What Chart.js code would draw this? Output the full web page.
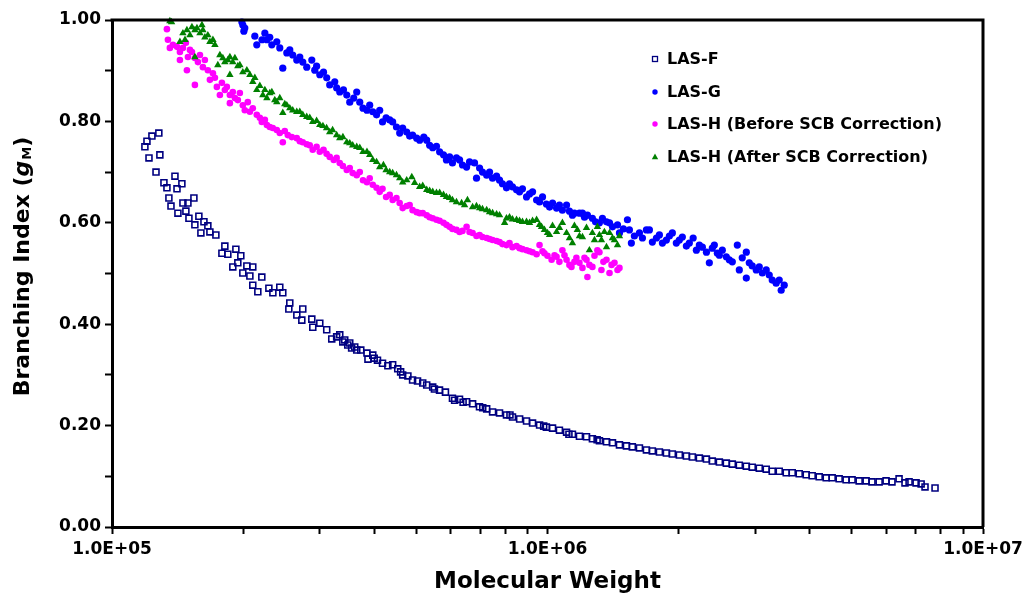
<!DOCTYPE html>
<html>
<head>
<meta charset="utf-8">
<title>Branching Index vs Molecular Weight</title>
<script src="https://cdn.jsdelivr.net/npm/chart.js"></script>
<style>
  html, body { margin: 0; padding: 0; background: #fff; }
  #wrap { width: 1024px; height: 597px; }
</style>
</head>
<body>
<div id="wrap"><canvas id="gmChart"></canvas></div>
<script>
// [molecular weight, g_M]

const lasF = [
  [1.281e5,0.777],[1.235e5,0.771],[1.203e5,0.761],[1.190e5,0.750],[1.216e5,0.728],[1.288e5,0.734],[1.262e5,0.700],
  [1.395e5,0.692],[1.316e5,0.679],[1.337e5,0.669],[1.447e5,0.677],[1.410e5,0.667],[1.351e5,0.649],[1.542e5,0.649],
  [1.455e5,0.639],[1.494e5,0.639],[1.366e5,0.633],[1.478e5,0.623],[1.417e5,0.619],[1.583e5,0.613],[1.502e5,0.609],
  [1.626e5,0.602],[1.550e5,0.596],[1.660e5,0.594],[1.600e5,0.580],[1.732e5,0.576],[1.678e5,0.582],[1.816e5,0.554],
  [1.925e5,0.548],[1.788e5,0.540],[1.845e5,0.538],[1.976e5,0.535],[1.945e5,0.521],[2.040e5,0.515],[2.105e5,0.513],
  [1.894e5,0.513],[1.997e5,0.501],[2.073e5,0.495],[2.208e5,0.493],[2.105e5,0.477],[2.162e5,0.464],[2.292e5,0.471],
  [2.428e5,0.473],[2.341e5,0.462],[2.467e5,0.462],[2.560e5,0.442],[2.547e5,0.430],[2.742e5,0.430],[2.657e5,0.418],
  [2.728e5,0.408],[2.876e5,0.410],[3.000e5,0.402],[2.891e5,0.394],[3.112e5,0.389],[3.196e5,0.371],[3.334e5,0.379],
  [3.388e5,0.365],[3.647e5,0.349],[3.478e5,0.359],[3.550e5,0.353],
  [3.280e5,0.375],[3.423e5,0.369],[3.515e5,0.363],[3.609e5,0.355],[3.726e5,0.349],[3.850e5,0.343],[3.870e5,0.331],
  [3.970e5,0.339],[4.000e5,0.333],[4.070e5,0.329],[4.180e5,0.323],[4.300e5,0.318],[4.410e5,0.320],[4.530e5,0.312],
  [4.600e5,0.306],[4.650e5,0.300],[4.780e5,0.298],[4.900e5,0.290],[5.030e5,0.288],[5.170e5,0.284],[5.280e5,0.280],
  [5.450e5,0.276],[5.500e5,0.272],[5.650e5,0.270],[5.830e5,0.266],[6.050e5,0.254],[6.120e5,0.250],[6.280e5,0.252],
  [6.400e5,0.246],[6.520e5,0.247],[6.730e5,0.243],[6.980e5,0.237],[7.100e5,0.235],[7.250e5,0.233],[7.480e5,0.227],
  [7.760e5,0.225],[8.050e5,0.221],[8.200e5,0.221],[8.310e5,0.217],[8.630e5,0.213],[8.950e5,0.209],[9.240e5,0.205],
  [9.590e5,0.201],[9.800e5,0.199],[9.940e5,0.197],[1.027e6,0.195],[1.065e6,0.191],[1.106e6,0.187],[1.120e6,0.183],
  [1.141e6,0.183],[1.184e6,0.179],[1.229e6,0.178],[1.268e6,0.174],[1.300e6,0.172],[1.316e6,0.170],[1.366e6,0.168],
  [1.410e6,0.166],[1.463e6,0.162],[1.518e6,0.160],[1.566e6,0.158],[1.626e6,0.156],[1.687e6,0.152],[1.741e6,0.150],
  [1.807e6,0.148],[1.875e6,0.146],[1.935e6,0.144],[2.008e6,0.142],[2.084e6,0.140],[2.151e6,0.138],[2.232e6,0.136],
  [2.317e6,0.134],[2.390e6,0.130],[2.481e6,0.128],[2.574e6,0.126],[2.657e6,0.124],[2.757e6,0.122],[2.861e6,0.120],
  [2.952e6,0.118],[3.064e6,0.116],[3.179e6,0.114],[3.281e6,0.110],[3.405e6,0.110],[3.533e6,0.107],[3.647e6,0.107],
  [3.784e6,0.105],[3.927e6,0.103],[4.053e6,0.101],[4.206e6,0.099],[4.365e6,0.097],[4.505e6,0.097],[4.674e6,0.095],
  [4.849e6,0.093],[5.005e6,0.093],[5.195e6,0.091],[5.390e6,0.091],[5.560e6,0.089],[5.774e6,0.089],[5.990e6,0.091],
  [6.180e6,0.089],[6.416e6,0.095],[6.620e6,0.087],[6.765e6,0.089],[7.020e6,0.087],[7.210e6,0.085],[7.360e6,0.079],
  [7.760e6,0.077]
];

const lasG = [
  [1.987e5,0.996],[1.997e5,0.990],[2.018e5,0.984],[2.008e5,0.978],[2.128e5,0.968],[2.150e5,0.951],[2.210e5,0.961],
  [2.244e5,0.974],[2.268e5,0.961],[2.303e5,0.966],[2.328e5,0.951],[2.390e5,0.957],[2.428e5,0.945],[2.467e5,0.905],
  [2.520e5,0.935],[2.560e5,0.941],[2.600e5,0.931],[2.656e5,0.921],[2.699e5,0.927],[2.742e5,0.917],[2.800e5,0.907],
  [2.876e5,0.921],[2.921e5,0.901],[2.950e5,0.909],[3.000e5,0.892],[3.060e5,0.897],[3.112e5,0.886],[3.162e5,0.872],
  [3.247e5,0.878],[3.280e5,0.866],[3.334e5,0.858],[3.400e5,0.862],[3.460e5,0.852],[3.515e5,0.838],[3.590e5,0.846],
  [3.647e5,0.858],[3.706e5,0.838],[3.770e5,0.826],[3.850e5,0.822],[3.906e5,0.832],[3.970e5,0.819],[4.050e5,0.813],
  [4.118e5,0.822],[4.180e5,0.799],[4.260e5,0.807],[4.342e5,0.803],[4.410e5,0.799],[4.500e5,0.789],[4.577e5,0.777],
  [4.650e5,0.787],[4.750e5,0.779],[4.825e5,0.771],[4.900e5,0.773],[5.007e5,0.767],[5.087e5,0.763],[5.200e5,0.769],
  [5.280e5,0.763],[5.362e5,0.753],[5.450e5,0.748],[5.560e5,0.751],[5.653e5,0.740],[5.770e5,0.734],[5.860e5,0.724],
  [5.959e5,0.730],[6.050e5,0.718],[6.180e5,0.728],[6.282e5,0.724],[6.380e5,0.714],[6.520e5,0.710],[6.622e5,0.720],
  [6.800e5,0.718],[6.870e5,0.688],[6.983e5,0.708],[7.090e5,0.700],[7.250e5,0.694],[7.362e5,0.700],[7.480e5,0.688],
  [7.640e5,0.692],[7.760e5,0.684],[7.880e5,0.677],[8.050e5,0.669],[8.180e5,0.677],[8.310e5,0.671],[8.490e5,0.665],
  [8.626e5,0.661],[8.760e5,0.667],[8.950e5,0.651],[9.094e5,0.657],[9.240e5,0.661],[9.440e5,0.645],[9.588e5,0.641],
  [9.740e5,0.651],[9.940e5,0.637],[1.011e6,0.631],[1.027e6,0.639],[1.049e6,0.629],[1.065e6,0.635],[1.082e6,0.625],
  [1.106e6,0.635],[1.123e6,0.623],[1.141e6,0.615],[1.153e6,0.619],[1.184e6,0.619],[1.203e6,0.619],[1.216e6,0.611],
  [1.235e6,0.615],[1.268e6,0.609],[1.289e6,0.602],[1.316e6,0.600],[1.337e6,0.609],[1.366e6,0.602],[1.388e6,0.600],
  [1.410e6,0.592],[1.448e6,0.596],[1.463e6,0.580],[1.494e6,0.588],[1.526e6,0.606],[1.542e6,0.586],[1.558e6,0.560],
  [1.583e6,0.574],[1.626e6,0.580],[1.652e6,0.570],[1.687e6,0.586],[1.714e6,0.586],[1.741e6,0.562],[1.779e6,0.570],
  [1.807e6,0.576],[1.836e6,0.560],[1.875e6,0.566],[1.905e6,0.574],[1.935e6,0.580],[1.976e6,0.560],[2.008e6,0.566],
  [2.040e6,0.572],[2.084e6,0.554],[2.117e6,0.560],[2.160e6,0.570],[2.197e6,0.546],[2.232e6,0.556],[2.268e6,0.552],
  [2.317e6,0.542],[2.353e6,0.521],[2.390e6,0.550],[2.416e6,0.556],[2.455e6,0.540],[2.481e6,0.536],[2.520e6,0.546],
  [2.574e6,0.533],[2.615e6,0.527],[2.657e6,0.523],[2.728e6,0.556],[2.757e6,0.507],[2.800e6,0.531],[2.861e6,0.542],
  [2.861e6,0.491],[2.906e6,0.521],[2.952e6,0.515],[3.015e6,0.507],[3.064e6,0.513],[3.114e6,0.501],[3.179e6,0.507],
  [3.230e6,0.497],[3.281e6,0.487],[3.350e6,0.481],[3.405e6,0.487],[3.440e6,0.467],[3.496e6,0.477]
];

const lasHBefore = [
  [1.337e5,0.982],[1.344e5,0.961],[1.358e5,0.945],[1.380e5,0.951],[1.410e5,0.947],[1.432e5,0.921],[1.432e5,0.937],
  [1.455e5,0.945],[1.478e5,0.955],[1.486e5,0.901],[1.494e5,0.927],[1.510e5,0.941],[1.526e5,0.937],[1.550e5,0.872],
  [1.550e5,0.925],[1.575e5,0.917],[1.592e5,0.931],[1.617e5,0.907],[1.634e5,0.921],[1.660e5,0.901],[1.678e5,0.882],
  [1.705e5,0.895],[1.723e5,0.886],[1.741e5,0.868],[1.769e5,0.852],[1.788e5,0.876],[1.816e5,0.862],[1.835e5,0.868],
  [1.865e5,0.852],[1.865e5,0.836],[1.894e5,0.858],[1.915e5,0.846],[1.945e5,0.842],[1.966e5,0.856],[1.997e5,0.832],
  [2.018e5,0.822],[2.050e5,0.838],[2.073e5,0.819],[2.105e5,0.826],[2.150e5,0.813],[2.185e5,0.807],[2.208e5,0.799],
  [2.244e5,0.803],[2.268e5,0.793],[2.303e5,0.789],[2.340e5,0.787],[2.390e5,0.783],[2.428e5,0.777],[2.467e5,0.759],
  [2.493e5,0.781],[2.533e5,0.773],[2.587e5,0.769],[2.656e5,0.767],[2.699e5,0.761],[2.742e5,0.759],[2.800e5,0.755],
  [2.845e5,0.753],[2.890e5,0.744],[2.950e5,0.750],[3.000e5,0.740],[3.060e5,0.744],[3.110e5,0.736],[3.162e5,0.730],
  [3.230e5,0.724],[3.280e5,0.728],[3.334e5,0.718],[3.390e5,0.712],[3.460e5,0.704],[3.515e5,0.708],[3.570e5,0.698],
  [3.647e5,0.694],[3.706e5,0.700],[3.770e5,0.684],[3.850e5,0.680],[3.906e5,0.688],[3.970e5,0.675],[4.050e5,0.669],
  [4.118e5,0.661],[4.180e5,0.667],[4.260e5,0.651],[4.342e5,0.655],[4.410e5,0.645],[4.500e5,0.649],[4.577e5,0.639],
  [4.650e5,0.629],[4.750e5,0.633],[4.825e5,0.635],[4.900e5,0.625],[5.007e5,0.621],[5.087e5,0.619],[5.170e5,0.619],
  [5.280e5,0.615],[5.362e5,0.611],[5.450e5,0.609],[5.560e5,0.606],[5.653e5,0.604],[5.770e5,0.600],[5.860e5,0.596],
  [5.959e5,0.592],[6.050e5,0.588],[6.180e5,0.586],[6.282e5,0.582],[6.380e5,0.584],[6.520e5,0.592],[6.622e5,0.582],
  [6.730e5,0.580],[6.870e5,0.574],[6.983e5,0.576],[7.090e5,0.572],[7.250e5,0.570],[7.362e5,0.568],[7.480e5,0.566],
  [7.640e5,0.564],[7.760e5,0.562],[7.880e5,0.558],[8.050e5,0.556],[8.180e5,0.560],[8.310e5,0.552],[8.490e5,0.554],
  [8.626e5,0.550],[8.760e5,0.548],[8.950e5,0.546],[9.094e5,0.544],[9.240e5,0.542],[9.440e5,0.538],[9.588e5,0.556],
  [9.740e5,0.544],[9.840e5,0.540],[1.000e6,0.535],[1.022e6,0.527],[1.038e6,0.536],[1.049e6,0.533],[1.065e6,0.523],
  [1.082e6,0.546],[1.094e6,0.536],[1.106e6,0.527],[1.123e6,0.517],[1.135e6,0.513],[1.153e6,0.523],[1.165e6,0.531],
  [1.184e6,0.521],[1.203e6,0.511],[1.216e6,0.531],[1.229e6,0.527],[1.235e6,0.493],[1.248e6,0.517],[1.268e6,0.513],
  [1.282e6,0.535],[1.302e6,0.546],[1.316e6,0.542],[1.330e6,0.507],[1.344e6,0.523],[1.366e6,0.527],[1.388e6,0.501],
  [1.403e6,0.517],[1.425e6,0.521],[1.448e6,0.507],[1.463e6,0.511]
];

const lasHAfter = [
  [1.358e5,0.998],[1.370e5,0.996],[1.432e5,0.957],[1.455e5,0.974],[1.471e5,0.961],[1.486e5,0.980],[1.510e5,0.970],
  [1.526e5,0.986],[1.550e5,0.980],[1.567e5,0.984],[1.592e5,0.974],[1.609e5,0.990],[1.617e5,0.980],[1.634e5,0.966],
  [1.660e5,0.970],[1.678e5,0.957],[1.705e5,0.961],[1.723e5,0.951],[1.550e5,0.927],[1.750e5,0.911],[1.769e5,0.931],
  [1.797e5,0.925],[1.816e5,0.917],[1.845e5,0.921],[1.865e5,0.927],[1.865e5,0.892],[1.894e5,0.917],[1.915e5,0.925],
  [1.945e5,0.909],[1.966e5,0.911],[1.997e5,0.897],[2.040e5,0.901],[2.073e5,0.892],[2.105e5,0.878],[2.128e5,0.886],
  [2.150e5,0.862],[2.185e5,0.870],[2.220e5,0.852],[2.244e5,0.862],[2.268e5,0.846],[2.303e5,0.856],[2.328e5,0.858],
  [2.365e5,0.842],[2.390e5,0.838],[2.428e5,0.846],[2.467e5,0.817],[2.493e5,0.834],[2.520e5,0.832],[2.560e5,0.826],
  [2.600e5,0.822],[2.656e5,0.819],[2.699e5,0.819],[2.742e5,0.813],[2.800e5,0.809],[2.845e5,0.807],[2.890e5,0.799],
  [2.950e5,0.801],[3.000e5,0.793],[3.050e5,0.791],[3.110e5,0.787],[3.162e5,0.779],[3.210e5,0.783],[3.280e5,0.773],
  [3.334e5,0.767],[3.390e5,0.769],[3.460e5,0.759],[3.515e5,0.757],[3.570e5,0.753],[3.647e5,0.750],[3.706e5,0.748],
  [3.770e5,0.740],[3.850e5,0.740],[3.906e5,0.734],[3.970e5,0.724],[4.050e5,0.720],[4.118e5,0.710],[4.200e5,0.714],
  [4.260e5,0.704],[4.342e5,0.700],[4.410e5,0.698],[4.500e5,0.694],[4.577e5,0.688],[4.650e5,0.680],[4.750e5,0.684],
  [4.880e5,0.690],[4.954e5,0.679],[5.087e5,0.671],[5.170e5,0.673],[5.280e5,0.665],[5.362e5,0.663],[5.450e5,0.661],
  [5.560e5,0.659],[5.653e5,0.659],[5.770e5,0.655],[5.860e5,0.651],[5.959e5,0.649],[6.050e5,0.645],[6.180e5,0.641],
  [6.350e5,0.639],[6.450e5,0.635],[6.550e5,0.645],[6.730e5,0.631],[6.870e5,0.633],[6.983e5,0.629],[7.090e5,0.627],
  [7.250e5,0.625],[7.362e5,0.621],[7.480e5,0.619],[7.640e5,0.617],[7.760e5,0.615],[7.970e5,0.600],[8.050e5,0.609],
  [8.180e5,0.611],[8.310e5,0.607],[8.490e5,0.606],[8.626e5,0.604],[8.760e5,0.602],[8.950e5,0.602],[9.094e5,0.600],
  [9.240e5,0.604],[9.440e5,0.606],[9.588e5,0.596],[9.690e5,0.592],[9.840e5,0.586],[1.000e6,0.580],[1.011e6,0.576],
  [1.027e6,0.594],[1.049e6,0.582],[1.065e6,0.590],[1.082e6,0.600],[1.106e6,0.580],[1.123e6,0.570],[1.141e6,0.560],
  [1.153e6,0.594],[1.171e6,0.586],[1.184e6,0.574],[1.203e6,0.572],[1.229e6,0.590],[1.248e6,0.546],[1.268e6,0.580],
  [1.282e6,0.566],[1.302e6,0.592],[1.316e6,0.576],[1.330e6,0.566],[1.351e6,0.582],[1.366e6,0.552],[1.388e6,0.580],
  [1.410e6,0.570],[1.425e6,0.566],[1.448e6,0.556],[1.463e6,0.574]
];

const seriesNames = ['LAS-F', 'LAS-G', 'LAS-H (Before SCB Correction)', 'LAS-H (After SCB Correction)'];

const xTickValues = [1e5, 2e5, 3e5, 4e5, 5e5, 6e5, 7e5, 8e5, 9e5,
                     1e6, 2e6, 3e6, 4e6, 5e6, 6e6, 7e6, 8e6, 9e6, 1e7];
const xTickLabels = ['1.0E+05', '', '', '', '', '', '', '', '',
                     '1.0E+06', '', '', '', '', '', '', '', '', '1.0E+07'];
const yTickValues = [0, 0.1, 0.2, 0.3, 0.4, 0.5, 0.6, 0.7, 0.8, 0.9, 1.0];
const yTickLabels = ['0.00', '', '0.20', '', '0.40', '', '0.60', '', '0.80', '', '1.00'];

const FONT = "'DejaVu Sans', 'Liberation Sans', Arial, sans-serif";
const toPoints = (arr) => arr.map(p => ({ x: p[0], y: p[1] }));

// legend entries drawn inside the plot, top right
function drawLegendMarker(ctx, kind, color, x, y) {
    ctx.save();
    ctx.fillStyle = color;
    ctx.strokeStyle = color;
    ctx.beginPath();
    if (kind === 'rect') {
        ctx.lineWidth = 1.3;
        ctx.strokeRect(x - 2.5, y - 2.5, 5, 5);
    } else if (kind === 'triangle') {
        ctx.moveTo(x, y - 3.5);
        ctx.lineTo(x + 3.2, y + 2.3);
        ctx.lineTo(x - 3.2, y + 2.3);
        ctx.closePath();
        ctx.fill();
    } else {
        ctx.arc(x, y, 2.7, 0, Math.PI * 2);
        ctx.fill();
    }
    ctx.restore();
}

const extrasPlugin = {
    id: 'extras',
    afterDraw(chart) {
        const { ctx, chartArea: a } = chart;
        ctx.save();

        // closing top and right sides of the frame
        ctx.strokeStyle = '#000';
        ctx.lineWidth = 3;
        ctx.beginPath();
        ctx.moveTo(a.left - 1.5, a.top);
        ctx.lineTo(a.right, a.top);
        ctx.lineTo(a.right, a.bottom);
        ctx.stroke();

        // x axis title
        ctx.fillStyle = '#000';
        ctx.textAlign = 'center';
        ctx.textBaseline = 'middle';
        ctx.font = 'bold 23px ' + FONT;
        ctx.fillText('Molecular Weight', (a.left + a.right) / 2, 582);

        // y axis title: Branching Index (g_M)
        const parts = [
            { t: 'Branching Index (', f: 'bold 22px ' + FONT, dy: 0 },
            { t: 'g', f: 'italic bold 22px ' + FONT, dy: 0 },
            { t: 'M', f: 'bold 13px ' + FONT, dy: 5 },
            { t: ')', f: 'bold 22px ' + FONT, dy: 0 }
        ];
        let total = 0;
        parts.forEach(p => { ctx.font = p.f; p.w = ctx.measureText(p.t).width; total += p.w; });
        ctx.translate(23, 267);
        ctx.rotate(-Math.PI / 2);
        ctx.textAlign = 'left';
        let cx = -total / 2;
        parts.forEach(p => {
            ctx.font = p.f;
            ctx.fillText(p.t, cx, p.dy);
            cx += p.w + (p.t === 'g' ? 1 : 0);
        });
        ctx.setTransform(1, 0, 0, 1, 0, 0);

        // legend
        const rows = [59, 92, 124, 157];
        ctx.font = 'bold 16px ' + FONT;
        ctx.textAlign = 'left';
        ctx.textBaseline = 'middle';
        chart.data.datasets.forEach((ds, i) => {
            drawLegendMarker(ctx, ds.pointStyle, ds.borderColor, 655, rows[i]);
            ctx.fillStyle = '#000';
            ctx.fillText(ds.label, 667, rows[i] + 1);
        });
        ctx.restore();
    }
};

const tickFont = { family: FONT, size: 17, weight: 'bold' };

new Chart(document.getElementById('gmChart'), {
    type: 'scatter',
    data: {
        datasets: [
            {
                label: seriesNames[0],
                data: toPoints(lasF),
                pointStyle: 'rect',
                pointRadius: 4.2,
                pointBorderWidth: 1.6,
                borderColor: '#000080',
                backgroundColor: 'rgba(255,255,255,0)',
                order: 3,
                clip: 8
            },
            {
                label: seriesNames[1],
                data: toPoints(lasG),
                pointStyle: 'circle',
                pointRadius: 3.6,
                pointBorderWidth: 0,
                borderColor: '#0000ff',
                backgroundColor: '#0000ff',
                order: 2,
                clip: 8
            },
            {
                label: seriesNames[2],
                data: toPoints(lasHBefore),
                pointStyle: 'circle',
                pointRadius: 3.3,
                pointBorderWidth: 0,
                borderColor: '#ff00ff',
                backgroundColor: '#ff00ff',
                order: 1,
                clip: 8
            },
            {
                label: seriesNames[3],
                data: toPoints(lasHAfter),
                pointStyle: 'triangle',
                pointRadius: 4.3,
                pointBorderWidth: 0,
                borderColor: '#008000',
                backgroundColor: '#008000',
                order: 0,
                clip: 8
            }
        ]
    },
    options: {
        responsive: true,
        maintainAspectRatio: false,
        animation: false,
        layout: { padding: { top: 20, right: 41, bottom: 0, left: 0 } },
        plugins: {
            legend: { display: false },
            tooltip: { enabled: false }
        },
        scales: {
            x: {
                type: 'logarithmic',
                min: 1e5,
                max: 1e7,
                afterBuildTicks: (scale) => { scale.ticks = xTickValues.map(v => ({ value: v })); },
                afterFit: (scale) => {
                    scale.height = 70;
                    // let the end labels overhang instead of squeezing the plot
                    scale.paddingLeft = 0;
                    scale.paddingRight = 0;
                },
                grid: { drawOnChartArea: false, drawTicks: true, tickLength: 7, tickWidth: 2, tickColor: '#000' },
                border: { display: true, color: '#000', width: 3 },
                ticks: {
                    autoSkip: false,
                    maxRotation: 0,
                    padding: 5,
                    color: '#000',
                    font: tickFont,
                    callback: (value, index) => xTickLabels[index]
                }
            },
            y: {
                type: 'linear',
                min: 0,
                max: 1,
                afterBuildTicks: (scale) => { scale.ticks = yTickValues.map(v => ({ value: v })); },
                afterFit: (scale) => { scale.width = 112; },
                grid: { drawOnChartArea: false, drawTicks: true, tickLength: 7, tickWidth: 2, tickColor: '#000' },
                border: { display: true, color: '#000', width: 3 },
                ticks: {
                    autoSkip: false,
                    padding: 4,
                    color: '#000',
                    font: tickFont,
                    callback: (value, index) => yTickLabels[index]
                }
            }
        }
    },
    plugins: [extrasPlugin]
});
</script>
</body>
</html>
